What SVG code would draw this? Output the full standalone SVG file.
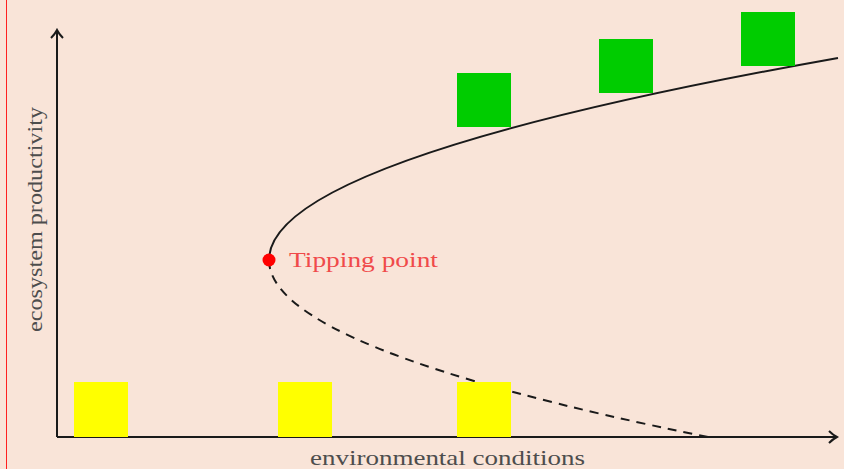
<svg xmlns="http://www.w3.org/2000/svg" width="844" height="469" viewBox="0 0 844 469">
<style>
.axis{stroke:#1a1a1a;stroke-width:2;fill:none}
.curve{stroke:#1a1a1a;stroke-width:2;fill:none}
.dash{stroke-dasharray:9 7}
.yel{fill:#ffff00}
.grn{fill:#00cc00}
.lbl{font-family:"Liberation Serif","DejaVu Serif",serif;font-size:21px;fill:#4d4d4d}
.tip{font-family:"Liberation Serif","DejaVu Serif",serif;font-size:21px;fill:#f04a4a}
</style>
<defs>
<marker id="arr" viewBox="0 0 12 14" refX="10" refY="7" markerWidth="12" markerHeight="14" markerUnits="userSpaceOnUse" orient="auto">
<path d="M2,1 Q6,5 10,7 Q6,9 2,13" fill="none" stroke="#1a1a1a" stroke-width="2"/>
</marker>
</defs>
<rect width="844" height="469" fill="#f9e4d8"/>
<line x1="6.5" y1="0" x2="6.5" y2="469" stroke="#ff2020" stroke-width="1"/>
<g id="connectors">
<line class="axis" x1="57" y1="437" x2="57" y2="30" marker-end="url(#arr)"/>
<line class="axis" x1="57" y1="437" x2="837" y2="437" marker-end="url(#arr)"/>
<path id="stable" class="curve" d="M269,260 Q269,159 838,58"/>
<path id="unstable" class="curve dash" d="M269,260 Q269,348.5 708,437"/>
</g>
<g id="yellow1"><rect class="yel" x="74" y="382" width="54" height="55"/></g>
<g id="yellow2"><rect class="yel" x="278" y="382" width="54" height="55"/></g>
<g id="yellow3"><rect class="yel" x="457" y="382" width="54" height="55"/></g>
<g id="green1"><rect class="grn" x="457" y="73" width="54" height="54"/></g>
<g id="green2"><rect class="grn" x="599" y="39" width="54" height="54"/></g>
<g id="green3"><rect class="grn" x="741" y="12" width="54" height="54"/></g>
<g id="tipping">
<circle cx="269" cy="260" r="6.5" fill="#ff0000"/>
<text class="tip" x="289" y="267" textLength="149" lengthAdjust="spacingAndGlyphs">Tipping point</text>
</g>
<g id="xlabel"><text class="lbl" x="310" y="465" textLength="275" lengthAdjust="spacingAndGlyphs">environmental conditions</text></g>
<g id="ylabel"><text class="lbl" transform="translate(42,332) rotate(-90)" x="0" y="0" textLength="225" lengthAdjust="spacingAndGlyphs">ecosystem productivity</text></g>
</svg>
